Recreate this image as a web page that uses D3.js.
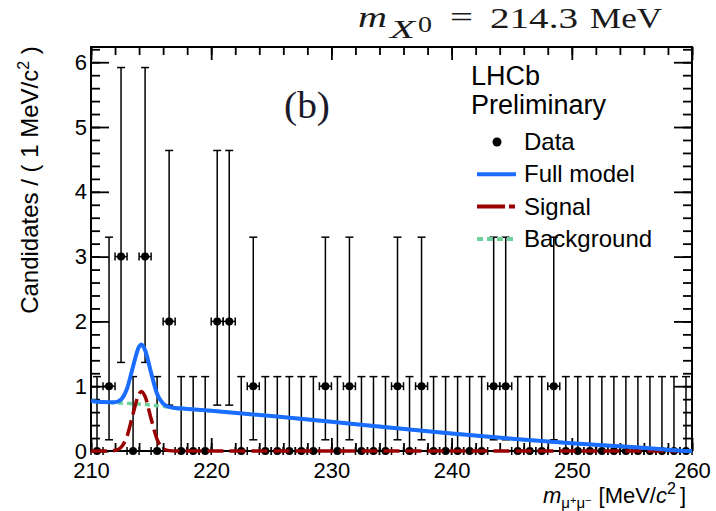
<!DOCTYPE html>
<html>
<head>
<meta charset="utf-8">
<script src="https://cdn.jsdelivr.net/npm/d3@7"></script>
<style>
	body { margin: 0; background: #fff; }
	text { font-family: "Liberation Sans", Arial, sans-serif; fill: #000; }
	.tick line { stroke: #000; stroke-width: 1.8; }
	.domain { display: none; }
	.serif { font-family: "Liberation Serif", "Times New Roman", serif; }
</style>
</head>
<body>
<div id="root"></div>
<script>
// events per 1 MeV bin, first bin is [210, 211]
const binStart = 210;
const binWidth = 1;
const counts = [
	0, 1, 3, 0, 3, 0, 2, 0, 0, 0,
	2, 2, 0, 1, 0, 0, 0, 0, 0, 1,
	0, 1, 0, 0, 0, 1, 0, 1, 0, 0,
	0, 0, 0, 1, 1, 0, 0, 0, 1, 0,
	0, 0, 0, 0, 0, 0, 0, 0, 0, 0,
];

// asymmetric poisson interval bounds, indexed by count
const poissonLow = [0, 0.173, 0.708, 1.367];
const poissonHigh = [1.148, 3.3, 4.638, 5.918];

// fit curves
const modelX = [210, 211, 212, 212.5, 213, 213.5, 214, 214.2, 214.5, 215, 215.5, 216, 216.5, 217, 218, 220, 225, 230, 235, 240, 245, 250, 255, 258, 259.5, 260];
const backgroundY = [0.77, 0.755, 0.745, 0.74, 0.735, 0.73, 0.725, 0.722, 0.717, 0.71, 0.7, 0.69, 0.675, 0.665, 0.65, 0.62, 0.54, 0.45, 0.36, 0.27, 0.19, 0.12, 0.06, 0.02, 0, 0];
const signalY = [0, 0, 0.009, 0.056, 0.23, 0.575, 0.885, 0.92, 0.84, 0.497, 0.18, 0.04, 0.006, 0, 0, 0, 0, 0, 0, 0, 0, 0, 0, 0, 0, 0];

const xMajor = [210, 220, 230, 240, 250, 260];
const xMinor = d3.range(210, 261, 2);
const yMajor = [0, 1, 2, 3, 4, 5, 6];
const yMinor = d3.range(0, 6.21, 0.2);

const legendItems = ["Data", "Full model", "Signal", "Background"];

const blue = "#1a6dff",
	red = "#990000",
	green = "#6fd09c";

var svg = d3
		.select("#root")
		.append("svg")
		.attr("width", 716)
		.attr("height", 511),
	margin = { top: 47, left: 91 },
	width = 601,
	height = 404,
	g = svg
		.append("g")
		.attr("transform", `translate(${margin.left},${margin.top})`);

var x = d3.scaleLinear().domain([210, 260]).range([0, width]);
var y = d3.scaleLinear().domain([0, 6.235]).range([height, 0]);

// axes, ROOT style ticks pointing inwards on all four sides
g.append("g")
	.attr("transform", `translate(0,${height})`)
	.call(d3.axisBottom(x).tickValues(xMinor).tickSize(-8).tickFormat(""));
g.append("g")
	.attr("transform", `translate(0,${height})`)
	.call(d3.axisBottom(x).tickValues(xMajor).tickSize(-13).tickPadding(11).tickFormat(d3.format("d")))
	.selectAll("text")
	.style("font-size", "22px");
g.append("g").call(d3.axisTop(x).tickValues(xMinor).tickSize(-8).tickFormat(""));
g.append("g").call(d3.axisTop(x).tickValues(xMajor).tickSize(-13).tickFormat(""));

g.append("g").call(d3.axisLeft(y).tickValues(yMinor).tickSize(-9).tickFormat(""));
g.append("g")
	.call(d3.axisLeft(y).tickValues(yMajor).tickSize(-18).tickPadding(4).tickFormat(d3.format("d")))
	.selectAll("text")
	.style("font-size", "22px");
g.append("g")
	.attr("transform", `translate(${width},0)`)
	.call(d3.axisRight(y).tickValues(yMinor).tickSize(-9).tickFormat(""));
g.append("g")
	.attr("transform", `translate(${width},0)`)
	.call(d3.axisRight(y).tickValues(yMajor).tickSize(-18).tickFormat(""));

g.append("rect")
	.attr("width", width)
	.attr("height", height)
	.attr("fill", "none")
	.attr("stroke", "#000")
	.attr("stroke-width", 2);

// data points with error bars
const bins = counts.map((c, i) => ({
	lo: binStart + i * binWidth,
	hi: binStart + (i + 1) * binWidth,
	mid: binStart + (i + 0.5) * binWidth,
	n: c,
}));

const pts = g.append("g").attr("stroke", "#000").attr("stroke-width", 1.5);
const cap = 4;
bins.forEach((b) => {
	const cx = x(b.mid),
		cy = y(b.n),
		top = y(poissonHigh[b.n]),
		bot = y(poissonLow[b.n]);
	pts.append("line").attr("x1", cx).attr("x2", cx).attr("y1", top).attr("y2", bot);
	pts.append("line").attr("x1", cx - cap).attr("x2", cx + cap).attr("y1", top).attr("y2", top);
	if (b.n > 0)
		pts.append("line").attr("x1", cx - cap).attr("x2", cx + cap).attr("y1", bot).attr("y2", bot);
	pts.append("line").attr("x1", x(b.lo)).attr("x2", x(b.hi)).attr("y1", cy).attr("y2", cy);
	pts.append("line").attr("x1", x(b.lo)).attr("x2", x(b.lo)).attr("y1", cy - cap).attr("y2", cy + cap);
	pts.append("line").attr("x1", x(b.hi)).attr("x2", x(b.hi)).attr("y1", cy - cap).attr("y2", cy + cap);
	pts.append("circle").attr("cx", cx).attr("cy", cy).attr("r", 4).attr("fill", "#000").attr("stroke", "none");
});

// curves
g.append("defs")
	.append("clipPath")
	.attr("id", "clip")
	.append("rect")
	.attr("y", -5)
	.attr("width", width)
	.attr("height", height + 10);

const model = modelX.map((m, i) => ({
	x: m,
	bg: backgroundY[i],
	sig: signalY[i],
	full: backgroundY[i] + signalY[i],
}));

const curves = g.append("g").attr("clip-path", "url(#clip)").attr("fill", "none");
const lineOf = (key) =>
	d3
		.line()
		.curve(d3.curveMonotoneX)
		.x((d) => x(d.x))
		.y((d) => y(d[key]));

curves.append("path").datum(model).attr("d", lineOf("bg")).attr("stroke", green).attr("stroke-width", 3.5).attr("stroke-dasharray", "5,4");
curves.append("path").datum(model).attr("d", lineOf("sig")).attr("stroke", red).attr("stroke-width", 3.5).attr("stroke-dasharray", "16,6");
curves.append("path").datum(model).attr("d", lineOf("full")).attr("stroke", blue).attr("stroke-width", 4);

// legend
svg.append("text").attr("x", 471).attr("y", 85).style("font-size", "27px").text("LHCb");
svg.append("text").attr("x", 471).attr("y", 114).style("font-size", "27px").text("Preliminary");

const leg = svg.append("g");
legendItems.forEach((name, i) => {
	const ly = 142 + i * 32.3;
	leg.append("text").attr("x", 524).attr("y", ly + 8).style("font-size", "24px").text(name);
	if (i === 0) {
		leg.append("circle").attr("cx", 497).attr("cy", ly).attr("r", 4.5).attr("fill", "#000");
	} else {
		const s = [blue, red, green][i - 1];
		const dash = [null, "28,4,6,4", "6,4"][i - 1];
		leg.append("line")
			.attr("x1", 477)
			.attr("x2", 516)
			.attr("y1", ly)
			.attr("y2", ly)
			.attr("stroke", s)
			.attr("stroke-width", 4)
			.attr("stroke-dasharray", dash);
	}
});

svg.append("text")
	.attr("class", "serif")
	.attr("x", 284)
	.attr("y", 118)
	.attr("textLength", 46)
	.attr("lengthAdjust", "spacingAndGlyphs")
	.style("font-size", "38px")
	.style("fill", "#1a1a2a")
	.text("(b)");

// title: m_{X^0} = 214.3 MeV
const title = svg.append("g").attr("class", "title");
[
	{ t: "m", x: 358, y: 27, s: 30, w: 29, it: true },
	{ t: "X", x: 390, y: 38, s: 25, w: 25, it: true },
	{ t: "0", x: 418, y: 32, s: 23, w: 14 },
	{ t: "=", x: 450, y: 27, s: 30, w: 23 },
	{ t: "214.3", x: 490, y: 28, s: 30, w: 88 },
	{ t: "MeV", x: 590, y: 28, s: 30, w: 72 },
].forEach((p) => {
	title.append("text")
		.attr("class", "serif")
		.attr("x", p.x)
		.attr("y", p.y)
		.attr("textLength", p.w)
		.attr("lengthAdjust", "spacingAndGlyphs")
		.style("font-size", p.s + "px")
		.style("font-style", p.it ? "italic" : null)
		.style("fill", "#1a1a1a")
		.text(p.t);
});

// axis titles
const yt = svg.append("text")
	.attr("transform", "translate(38,180) rotate(-90)")
	.attr("text-anchor", "middle")
	.style("font-size", "24px");
yt.append("tspan").text("Candidates / ( 1 MeV/c");
yt.append("tspan").attr("dy", -9).style("font-size", "16px").text("2");
yt.append("tspan").attr("dy", 9).text(" )");

const xt = svg.append("text").attr("x", 543).attr("y", 503).style("font-size", "22px");
xt.append("tspan").style("font-style", "italic").text("m");
xt.append("tspan").attr("dy", 5).style("font-size", "15px").text("μ");
xt.append("tspan").attr("dy", -4).style("font-size", "11px").text("+");
xt.append("tspan").attr("dy", 4).style("font-size", "15px").text("μ");
xt.append("tspan").attr("dy", -4).style("font-size", "11px").text("−");
xt.append("tspan").attr("dy", -1).attr("dx", 7).text("[MeV/");
xt.append("tspan").style("font-style", "italic").text("c");
xt.append("tspan").attr("dy", -9).style("font-size", "16px").text("2");
xt.append("tspan").attr("dy", 9).attr("dx", 4).text("]");
</script>
</body>
</html>
